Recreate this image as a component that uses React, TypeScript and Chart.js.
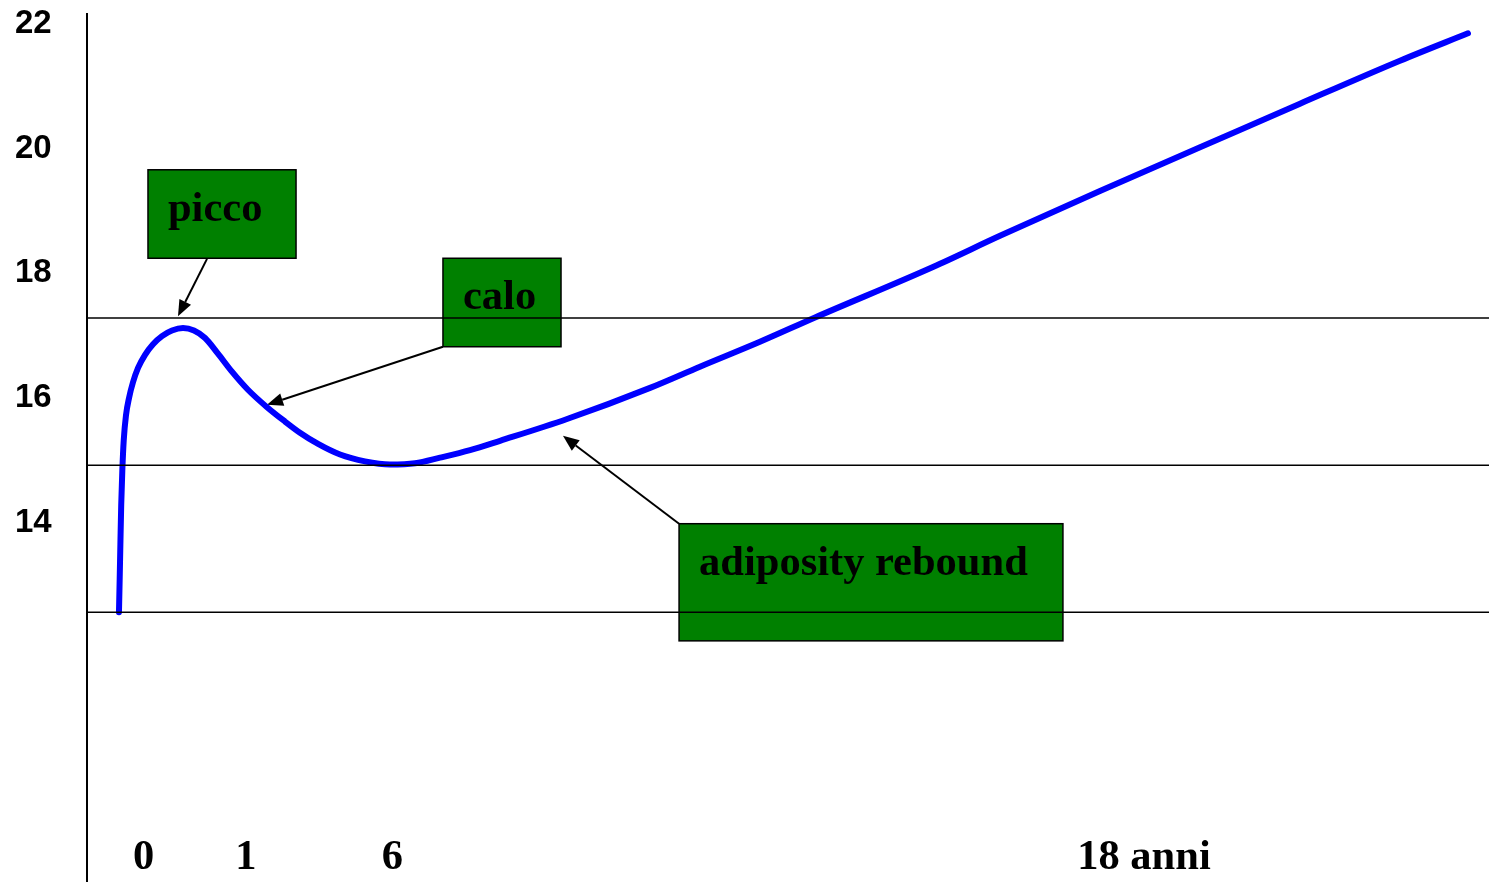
import React, { useEffect, useRef } from 'react';
import { Chart, registerables } from 'chart.js';

Chart.register(...registerables);

// Schematic BMI curve (x in schematic layout units 0..100, y in BMI units)
const curveX = [2.28, 2.33, 2.38, 2.44, 2.52, 2.62, 2.78, 3.00, 3.28, 3.64, 4.14, 4.71, 5.35, 6.06, 6.85, 7.63, 8.42, 9.34, 10.34, 11.48, 12.84, 14.12, 15.19, 16.48, 18.05, 19.83, 21.61, 23.40, 25.18, 27.32, 29.46, 34.24, 40.16, 43.72, 48.00, 51.93, 60.34, 65.12, 72.25, 79.39, 86.52, 93.65, 98.50];
const curveY = [12.53, 13.05, 13.61, 14.25, 14.81, 15.29, 15.69, 15.97, 16.22, 16.45, 16.66, 16.83, 16.96, 17.05, 17.09, 17.05, 16.93, 16.68, 16.39, 16.10, 15.82, 15.59, 15.41, 15.23, 15.06, 14.95, 14.90, 14.92, 15.01, 15.13, 15.28, 15.63, 16.13, 16.47, 16.87, 17.26, 18.07, 18.57, 19.29, 19.99, 20.69, 21.38, 21.82];

// Horizontal reference levels
const referenceLevels = [17.25, 14.89, 12.53];

// Axis ticks
const yTickValues = [14, 16, 18, 20, 22];
const xTickValues = [4.04, 11.33, 21.78, 75.39];
const xTickLabels = ['0', '1', '6', '18 anni'];

// Callout texts and their anchors (data units)
const calloutTexts = ['picco', 'calo', 'adiposity rebound'];
const calloutBoxX0 = [4.35, 25.39, 42.23];
const calloutBoxX1 = [14.91, 33.81, 69.61];
const calloutBoxYTop = [19.63, 18.21, 13.95];
const calloutBoxYBottom = [18.21, 16.79, 12.07];
const arrowFromX = [8.56, 25.39, 42.23];
const arrowFromY = [18.20, 16.79, 13.95];
const arrowToX = [6.49, 12.84, 33.95];
const arrowToY = [17.28, 15.86, 15.36];

const X_MIN = 0;
const X_MAX = 100;
const Y_MIN = 8.2;
const Y_MAX = 22.13;

const calloutPlugin = {
  id: 'callouts',
  beforeDatasetsDraw(chart: any) {
    const { ctx } = chart;
    const xs = chart.scales.x;
    const ys = chart.scales.y;
    ctx.save();
    for (let i = 0; i < calloutTexts.length; i++) {
      const left = xs.getPixelForValue(calloutBoxX0[i]);
      const right = xs.getPixelForValue(calloutBoxX1[i]);
      const top = ys.getPixelForValue(calloutBoxYTop[i]);
      const bottom = ys.getPixelForValue(calloutBoxYBottom[i]);
      ctx.fillStyle = '#008000';
      ctx.fillRect(left, top, right - left, bottom - top);
      ctx.strokeStyle = '#000';
      ctx.lineWidth = 1.5;
      ctx.strokeRect(left, top, right - left, bottom - top);
      ctx.fillStyle = '#000';
      ctx.font = 'bold 42.5px "Liberation Serif", "Times New Roman", serif';
      ctx.textAlign = 'left';
      ctx.textBaseline = 'alphabetic';
      ctx.fillText(calloutTexts[i], left + 20, top + 51);

      const fx = xs.getPixelForValue(arrowFromX[i]);
      const fy = ys.getPixelForValue(arrowFromY[i]);
      const tx = xs.getPixelForValue(arrowToX[i]);
      const ty = ys.getPixelForValue(arrowToY[i]);
      const ang = Math.atan2(ty - fy, tx - fx);
      const headLen = 16;
      const headW = 6.5;
      const bx = tx - headLen * Math.cos(ang);
      const by = ty - headLen * Math.sin(ang);
      ctx.strokeStyle = '#000';
      ctx.lineWidth = 2;
      ctx.beginPath();
      ctx.moveTo(fx, fy);
      ctx.lineTo(bx, by);
      ctx.stroke();
      ctx.beginPath();
      ctx.moveTo(tx, ty);
      ctx.lineTo(bx + headW * Math.sin(ang), by - headW * Math.cos(ang));
      ctx.lineTo(bx - headW * Math.sin(ang), by + headW * Math.cos(ang));
      ctx.closePath();
      ctx.fill();
    }
    ctx.restore();
  },
};

export default function App() {
  const canvasRef = useRef<HTMLCanvasElement | null>(null);

  useEffect(() => {
    if (!canvasRef.current) return;
    const levelSets = referenceLevels.map((v) => ({
      data: [
        { x: X_MIN, y: v },
        { x: X_MAX, y: v },
      ],
      borderColor: '#000000',
      borderWidth: 1.5,
      pointRadius: 0,
      fill: false,
    }));
    const curveSet = {
      data: curveX.map((x, i) => ({ x, y: curveY[i] })),
      borderColor: '#0000ff',
      borderWidth: 6,
      pointRadius: 0,
      fill: false,
      cubicInterpolationMode: 'monotone' as const,
      borderCapStyle: 'round' as const,
      borderJoinStyle: 'round' as const,
    };

    const chart = new Chart(canvasRef.current, {
      type: 'line',
      data: { datasets: [...levelSets, curveSet] as any },
      options: {
        animation: false,
        responsive: false,
        layout: { padding: { left: 15, top: 14, right: 0, bottom: 0 } },
        plugins: {
          legend: { display: false },
          tooltip: { enabled: false },
          title: { display: false },
        },
        events: [],
        scales: {
          x: {
            type: 'linear',
            min: X_MIN,
            max: X_MAX,
            position: { y: 9.0 } as any,
            grid: { display: false, drawTicks: false },
            border: { display: false },
            afterBuildTicks: (scale: any) => {
              scale.ticks = xTickValues.map((v) => ({ value: v }));
            },
            afterFit: (scale: any) => {
              scale.paddingLeft = 0;
              scale.paddingRight = 0;
            },
            ticks: {
              autoSkip: false,
              maxRotation: 0,
              minRotation: 0,
              padding: 0,
              color: '#000',
              font: { family: '"Liberation Serif", "Times New Roman", serif', size: 42.5, weight: 'bold' },
              callback: (_v: any, idx: number) => xTickLabels[idx],
            },
          },
          y: {
            type: 'linear',
            min: Y_MIN,
            max: Y_MAX,
            position: 'left',
            grid: { display: false, drawTicks: false },
            border: { display: true, color: '#000', width: 2 },
            afterBuildTicks: (scale: any) => {
              scale.ticks = yTickValues.map((v) => ({ value: v }));
            },
            afterFit: (scale: any) => {
              scale.width = 72;
              scale.paddingTop = 0;
              scale.paddingBottom = 0;
            },
            ticks: {
              padding: 0,
              crossAlign: 'far',
              labelOffset: 2,
              color: '#000',
              font: { family: '"Liberation Sans", Arial, sans-serif', size: 33, weight: 'bold', lineHeight: 0.8 },
              callback: (v: any) => String(v),
            },
          },
        },
      },
      plugins: [calloutPlugin],
    });
    return () => chart.destroy();
  }, []);

  return (
    <div style={{ position: 'fixed', left: 0, top: 0, width: 1489, height: 882, background: '#fff' }}>
      <canvas ref={canvasRef} width={1489} height={882} style={{ display: 'block' }} />
    </div>
  );
}
